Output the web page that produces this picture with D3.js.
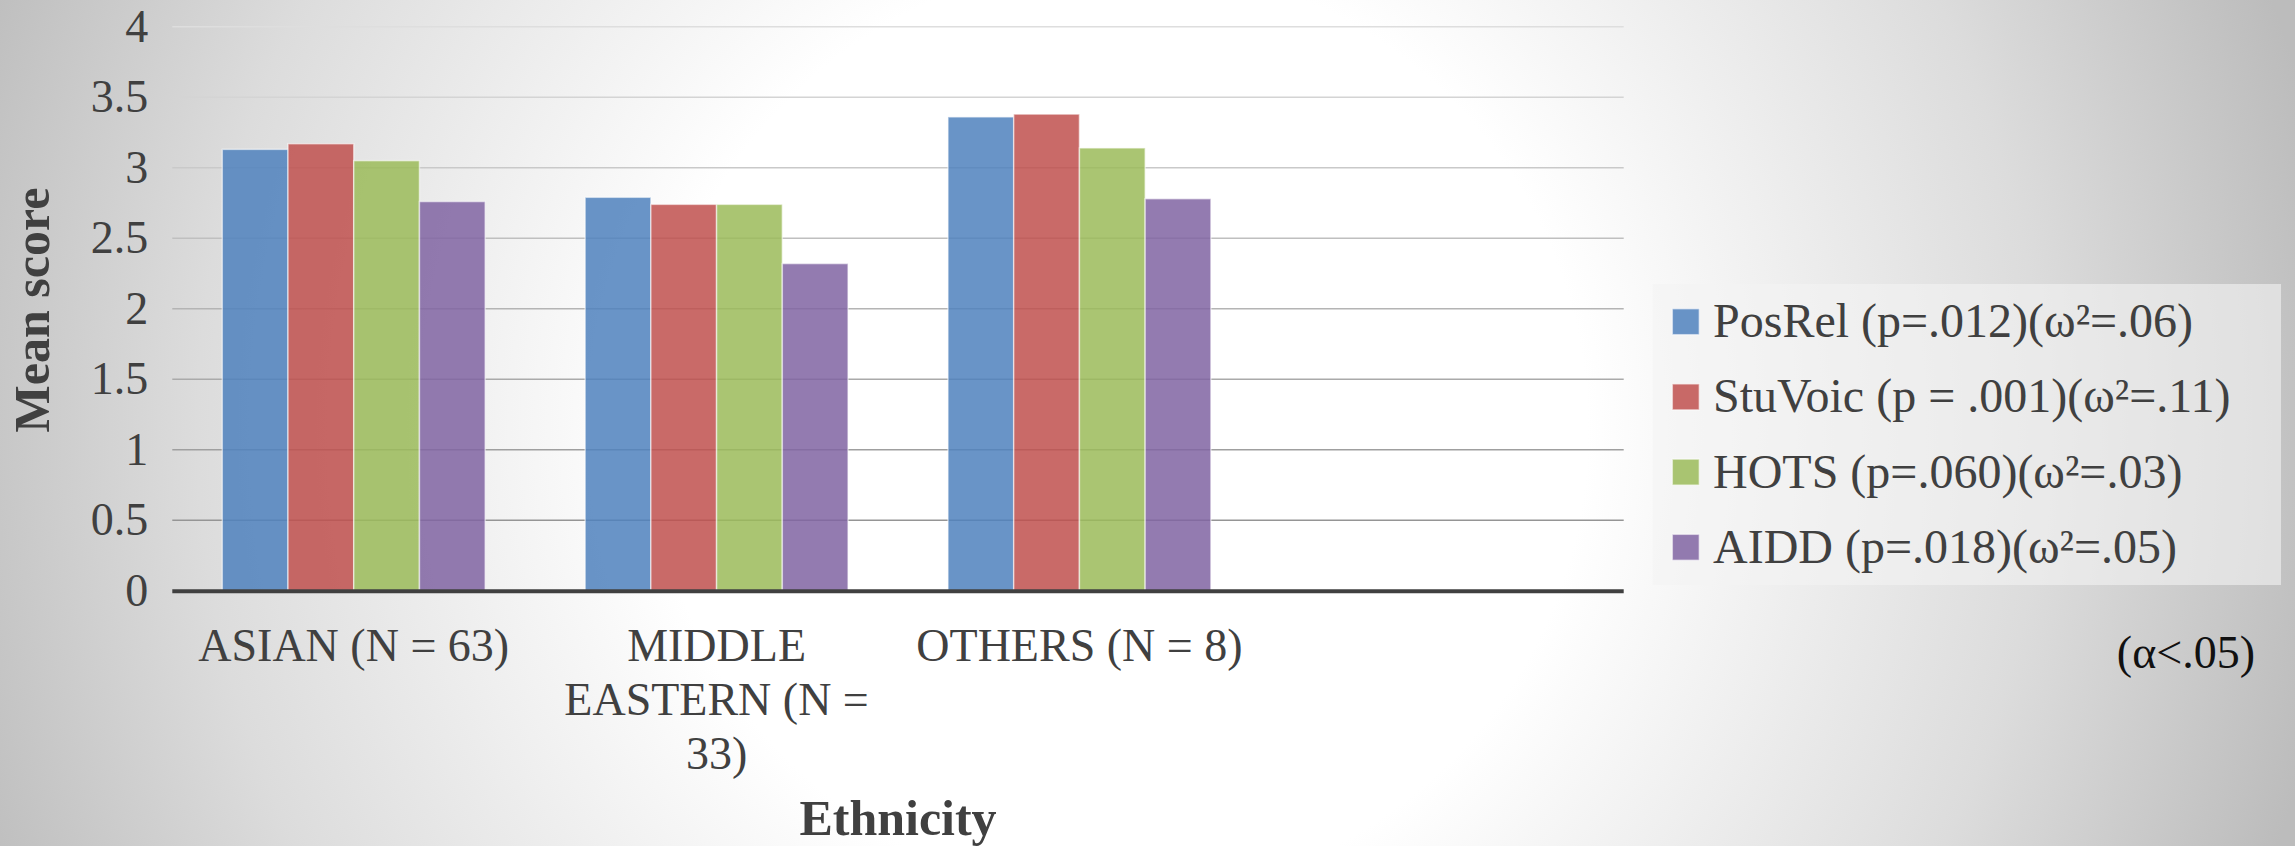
<!DOCTYPE html>
<html>
<head>
<meta charset="utf-8">
<script src="https://cdn.jsdelivr.net/npm/d3@7"></script>
<style>
  html, body { margin: 0; padding: 0; overflow: hidden; background: #fff; }
  svg { display: block; }
</style>
</head>
<body>
<svg id="chart" width="2295" height="846"></svg>
<script>
// Mean scores by ethnicity for four measures
const categories = ["ASIAN (N = 63)", "MIDDLE EASTERN (N = 33)", "OTHERS (N = 8)", ""];
const seriesNames = [
  "PosRel (p=.012)(ω²=.06)",
  "StuVoic (p = .001)(ω²=.11)",
  "HOTS (p=.060)(ω²=.03)",
  "AIDD (p=.018)(ω²=.05)"
];
const posRel  = [3.13, 2.79, 3.36];
const stuVoic = [3.17, 2.74, 3.38];
const hots    = [3.05, 2.74, 3.14];
const aidd    = [2.76, 2.32, 2.78];
const yTicks  = [0, 0.5, 1, 1.5, 2, 2.5, 3, 3.5, 4];
const yTitle = "Mean score";
const xTitle = "Ethnicity";
const note = "(α<.05)";

const seriesValues = [posRel, stuVoic, hots, aidd];
const colors = ["#4F81BD", "#C0504D", "#9BBB59", "#8064A2"];

const W = 2295, H = 846;
const plot = { left: 172.3, right: 1623.7, top: 26.7, bottom: 590.7 };
const FONT = "Liberation Serif, Times New Roman, serif";
const TEXT = "#404040";

const svg = d3.select("#chart");

// soft radial backdrop
const defs = svg.append("defs");
const bg = defs.append("radialGradient")
  .attr("id", "bg")
  .attr("gradientUnits", "userSpaceOnUse")
  .attr("cx", 1120).attr("cy", 430).attr("r", 1230);
[[0, "#ffffff"], [0.38, "#ffffff"], [0.75, "#dcdcdc"], [1, "#bcbcbc"]]
  .forEach(([o, c]) => bg.append("stop").attr("offset", o).attr("stop-color", c));
svg.append("rect").attr("width", W).attr("height", H).attr("fill", "url(#bg)");

// scales
const y = d3.scaleLinear().domain([0, 4]).range([plot.bottom, plot.top]);
const x0 = d3.scaleBand().domain(categories).range([plot.left, plot.right]).padding(0);
const bw = x0.bandwidth();
const inset = bw * 50 / 363;
const x1 = d3.scaleBand().domain(d3.range(seriesNames.length)).range([inset, bw - inset]).padding(0);

// gridlines, shading darker toward the baseline
const gridShade = d3.scaleLinear().domain([0.5, 4]).range(["#959595", "#dedede"]).interpolate(d3.interpolateRgb);
svg.append("g").selectAll("line")
  .data(yTicks.filter(d => d > 0))
  .join("line")
  .attr("x1", plot.left).attr("x2", plot.right)
  .attr("y1", d => y(d)).attr("y2", d => y(d))
  .attr("stroke", d => gridShade(d))
  .attr("stroke-width", 1.5);

// y tick labels
const yAxis = svg.append("g")
  .attr("transform", `translate(${plot.left},0)`)
  .call(d3.axisLeft(y).tickValues(yTicks).tickSize(0).tickPadding(24).tickFormat(d => String(d)));
yAxis.select(".domain").remove();
yAxis.attr("font-family", FONT);
yAxis.selectAll("text")
  .attr("font-family", FONT).attr("font-size", 46).attr("fill", TEXT);

// bars
const groups = svg.append("g").selectAll("g")
  .data(categories.slice(0, posRel.length))
  .join("g")
  .attr("transform", d => `translate(${x0(d)},0)`);
groups.selectAll("rect")
  .data((d, ci) => seriesValues.map((vals, si) => ({ si, v: vals[ci] })))
  .join("rect")
  .attr("x", d => x1(d.si))
  .attr("width", x1.bandwidth())
  .attr("y", d => y(d.v))
  .attr("height", d => y(0) - y(d.v))
  .attr("fill", d => colors[d.si])
  .attr("fill-opacity", 0.85)
  .attr("stroke", "#ffffff")
  .attr("stroke-opacity", 0.55)
  .attr("stroke-width", 1.5);

// baseline
svg.append("line")
  .attr("x1", plot.left).attr("x2", plot.right)
  .attr("y1", y(0) + 0.6).attr("y2", y(0) + 0.6)
  .attr("stroke", "#404040").attr("stroke-width", 4);

// category labels, wrapped to the band width
const catG = svg.append("g");
categories.forEach(c => {
  if (!c) return;
  const cx = x0(c) + bw / 2;
  const t = catG.append("text")
    .attr("x", cx).attr("y", 660.7)
    .attr("text-anchor", "middle")
    .attr("font-family", FONT).attr("font-size", 46).attr("fill", TEXT);
  const words = c.split(" ");
  let line = [];
  let tspan = t.append("tspan").attr("x", cx).attr("dy", 0);
  words.forEach(w => {
    line.push(w);
    tspan.text(line.join(" "));
    if (tspan.node().getComputedTextLength() > bw - 8 && line.length > 1) {
      line.pop();
      tspan.text(line.join(" "));
      line = [w];
      tspan = t.append("tspan").attr("x", cx).attr("dy", 54).text(w);
    }
  });
});

// axis titles
svg.append("text")
  .attr("transform", `translate(49,310) rotate(-90)`)
  .attr("text-anchor", "middle")
  .attr("font-family", FONT).attr("font-size", 50).attr("font-weight", "bold")
  .attr("fill", TEXT)
  .text(yTitle);
svg.append("text")
  .attr("x", (plot.left + plot.right) / 2).attr("y", 835)
  .attr("text-anchor", "middle")
  .attr("font-family", FONT).attr("font-size", 50).attr("font-weight", "bold")
  .attr("fill", TEXT)
  .text(xTitle);

// legend
const lg = svg.append("g");
lg.append("rect")
  .attr("x", 1652.7).attr("y", 284).attr("width", 2281 - 1652.7).attr("height", 585 - 284)
  .attr("fill", "#f4f4f4").attr("fill-opacity", 0.6);
seriesNames.forEach((name, i) => {
  const yy = 308.7 + i * 75.2;
  lg.append("rect")
    .attr("x", 1672.3).attr("y", yy).attr("width", 27).attr("height", 26)
    .attr("fill", colors[i]).attr("fill-opacity", 0.85)
    .attr("stroke", "#ffffff").attr("stroke-opacity", 0.55).attr("stroke-width", 1.5);
  lg.append("text")
    .attr("x", 1713).attr("y", yy + 28.5)
    .attr("font-family", FONT).attr("font-size", 48).attr("fill", TEXT)
    .text(name);
});

// significance note
svg.append("text")
  .attr("x", 2255).attr("y", 668)
  .attr("text-anchor", "end")
  .attr("font-family", FONT).attr("font-size", 46).attr("fill", "#111111")
  .text(note);
</script>
</body>
</html>
